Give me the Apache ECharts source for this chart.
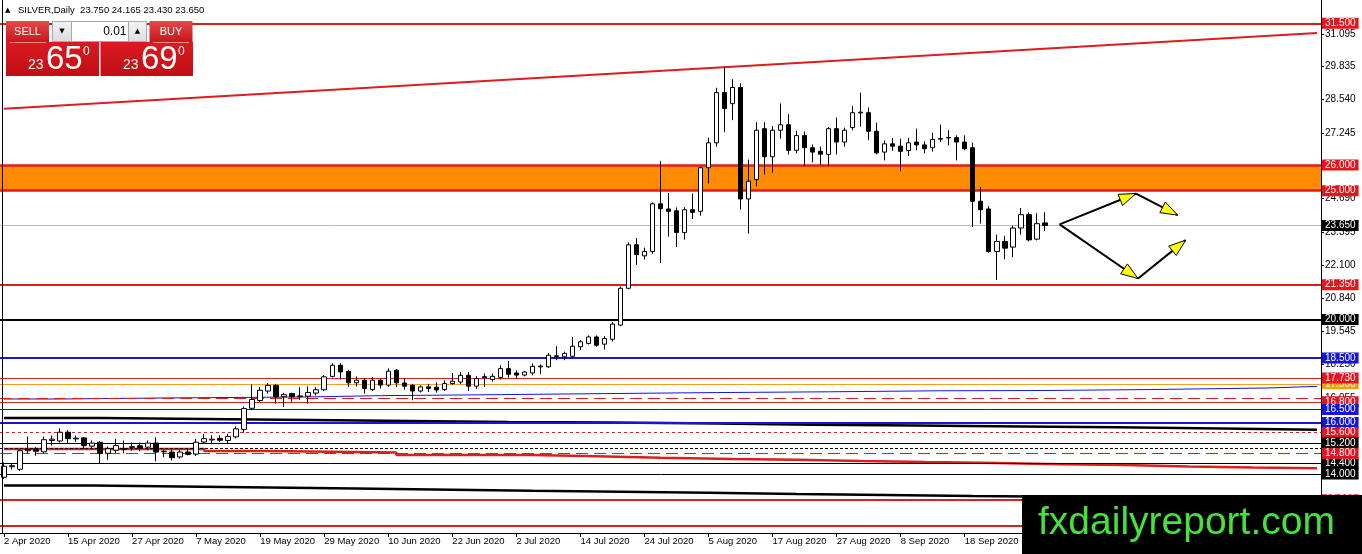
<!DOCTYPE html>
<html><head><meta charset="utf-8">
<script src="https://cdn.jsdelivr.net/npm/echarts@6/dist/echarts.min.js"></script>
<style>html,body{margin:0;padding:0;background:#fff}#c{width:1362px;height:554px}</style>
</head><body><div id="c"></div>
<script>
// ---------- data ----------
const dates = [
'2 Apr 2020','3 Apr 2020','6 Apr 2020','7 Apr 2020','8 Apr 2020','9 Apr 2020','13 Apr 2020','14 Apr 2020','15 Apr 2020','16 Apr 2020',
'17 Apr 2020','20 Apr 2020','21 Apr 2020','22 Apr 2020','23 Apr 2020','24 Apr 2020','27 Apr 2020','28 Apr 2020','29 Apr 2020','30 Apr 2020',
'1 May 2020','4 May 2020','5 May 2020','6 May 2020','7 May 2020','8 May 2020','11 May 2020','12 May 2020','13 May 2020','14 May 2020',
'15 May 2020','18 May 2020','19 May 2020','20 May 2020','21 May 2020','22 May 2020','25 May 2020','26 May 2020','27 May 2020','28 May 2020',
'29 May 2020','1 Jun 2020','2 Jun 2020','3 Jun 2020','4 Jun 2020','5 Jun 2020','8 Jun 2020','9 Jun 2020','10 Jun 2020','11 Jun 2020',
'12 Jun 2020','15 Jun 2020','16 Jun 2020','17 Jun 2020','18 Jun 2020','19 Jun 2020','22 Jun 2020','23 Jun 2020','24 Jun 2020','25 Jun 2020',
'26 Jun 2020','29 Jun 2020','30 Jun 2020','1 Jul 2020','2 Jul 2020','3 Jul 2020','6 Jul 2020','7 Jul 2020','8 Jul 2020','9 Jul 2020',
'10 Jul 2020','13 Jul 2020','14 Jul 2020','15 Jul 2020','16 Jul 2020','17 Jul 2020','20 Jul 2020','21 Jul 2020','22 Jul 2020','23 Jul 2020',
'24 Jul 2020','27 Jul 2020','28 Jul 2020','29 Jul 2020','30 Jul 2020','31 Jul 2020','3 Aug 2020','4 Aug 2020','5 Aug 2020','6 Aug 2020',
'7 Aug 2020','10 Aug 2020','11 Aug 2020','12 Aug 2020','13 Aug 2020','14 Aug 2020','17 Aug 2020','18 Aug 2020','19 Aug 2020','20 Aug 2020',
'21 Aug 2020','24 Aug 2020','25 Aug 2020','26 Aug 2020','27 Aug 2020','28 Aug 2020','31 Aug 2020','1 Sep 2020','2 Sep 2020','3 Sep 2020',
'4 Sep 2020','7 Sep 2020','8 Sep 2020','9 Sep 2020','10 Sep 2020','11 Sep 2020','14 Sep 2020','15 Sep 2020','16 Sep 2020','17 Sep 2020',
'18 Sep 2020','21 Sep 2020','22 Sep 2020','23 Sep 2020','24 Sep 2020','25 Sep 2020','28 Sep 2020','29 Sep 2020','30 Sep 2020','1 Oct 2020',
'2 Oct 2020'];

const open = [
13.87,14.28,14.18,14.90,14.97,14.86,15.30,15.28,15.62,15.36, 15.40,15.08,15.23,14.80,14.92,14.95,15.03,15.09,15.04,15.20,
14.86,14.85,14.66,14.85,14.77,15.24,15.32,15.38,15.30,15.44, 15.73,16.55,16.85,17.22,17.44,17.00,17.12,17.00,17.02,17.14,
17.27,17.79,18.22,17.98,17.54,17.64,17.28,17.64,17.45,18.03, 17.53,17.44,17.22,17.38,17.37,17.28,17.51,17.57,17.83,17.41,
17.74,17.67,17.75,18.09,17.92,17.84,17.92,18.16,18.16,18.56, 18.55,18.57,18.94,19.07,19.32,19.04,19.23,19.78,21.21,22.90,
22.47,22.64,24.49,24.29,24.22,23.38,24.26,24.20,25.89,26.86, 28.81,28.38,29.01,24.68,25.43,27.41,26.32,27.35,27.56,26.57,
27.14,26.67,26.53,26.41,27.41,26.89,27.45,28.02,28.03,27.31, 26.50,26.82,26.73,26.56,26.89,26.78,26.67,27.00,27.05,27.06,
26.89,26.67,24.59,24.29,22.64,23.03,22.81,23.55,24.07,23.12, 23.750];
const close = [
14.30,14.32,14.90,14.95,14.88,15.33,15.35,15.62,15.37,15.39, 15.10,15.20,14.80,14.98,15.10,14.97,15.06,15.02,15.20,14.85,
14.88,14.63,14.85,14.76,15.23,15.37,15.35,15.31,15.45,15.75, 16.54,16.89,17.25,17.44,17.00,17.08,17.00,17.03,17.16,17.27,
17.77,18.22,17.96,17.54,17.64,17.32,17.64,17.45,17.99,17.54, 17.41,17.22,17.38,17.32,17.26,17.51,17.60,17.83,17.41,17.70,
17.78,17.79,18.09,17.87,17.84,17.96,18.18,18.19,18.61,18.59, 18.68,18.96,19.13,19.32,19.00,19.26,19.82,21.21,22.90,22.52,
22.64,24.49,24.30,24.20,23.38,24.26,24.16,25.89,26.86,28.81, 28.19,29.01,24.68,25.37,27.35,26.32,27.35,27.56,26.57,27.14,
26.67,26.50,26.42,27.41,26.89,27.35,28.03,28.05,27.31,26.47, 26.82,26.73,26.53,26.86,26.78,26.63,26.99,27.03,27.07,26.89,
26.63,24.59,24.26,22.64,23.03,22.77,23.55,24.07,23.09,23.72, 23.650];
const low = [
13.80,14.17,14.12,14.78,14.71,14.80,15.10,15.22,15.19,15.24, 14.97,14.98,14.42,14.55,14.81,14.80,14.90,14.88,14.92,14.49,
14.65,14.52,14.60,14.72,14.70,15.18,15.15,15.24,15.18,15.38, 15.60,16.48,16.80,17.12,16.73,16.60,16.80,16.88,16.73,17.05,
17.22,17.75,17.67,17.38,17.40,17.12,17.22,17.32,17.38,17.38, 17.27,16.86,17.16,17.18,17.16,17.22,17.46,17.49,17.22,17.30,
17.38,17.59,17.66,17.74,17.70,17.79,17.83,17.88,18.12,18.42, 18.42,18.52,18.81,19.03,18.94,18.83,19.15,19.74,21.17,22.12,
22.33,22.55,22.19,23.22,22.81,23.10,23.90,24.03,25.28,26.71, 27.27,27.74,24.26,23.33,25.17,25.63,25.69,27.02,26.41,26.45,
25.96,26.10,26.00,25.96,26.41,26.71,27.35,27.49,26.96,26.41, 26.18,26.55,25.76,26.35,26.57,26.45,26.52,26.89,26.76,26.18,
26.57,23.59,23.72,22.59,21.53,22.34,22.42,23.29,23.03,23.07, 23.430];
const high = [
14.45,14.40,14.95,15.45,15.04,15.45,15.49,15.77,15.70,15.49, 15.43,15.30,15.28,15.07,15.37,15.30,15.22,15.22,15.30,15.42,
14.95,14.97,14.95,14.98,15.36,15.56,15.50,15.50,15.56,15.84, 16.62,17.48,17.37,17.53,17.50,17.15,17.15,17.37,17.40,17.37,
17.84,18.30,18.30,18.05,17.79,17.70,17.76,17.68,18.10,18.07, 17.70,17.50,17.44,17.50,17.56,17.64,17.92,17.96,17.96,17.80,
17.90,17.90,18.22,18.39,18.03,18.00,18.29,18.25,18.70,18.96, 18.75,19.32,19.20,19.38,19.38,19.35,19.90,21.28,22.99,23.16,
22.79,24.55,26.15,24.91,24.35,24.36,24.89,25.93,27.06,29.00, 29.82,29.33,29.17,26.21,27.66,27.66,27.51,28.39,27.97,27.33,
27.30,26.80,26.71,27.47,27.84,27.45,28.29,28.81,28.23,27.64, 26.95,27.05,27.02,27.05,27.41,26.92,27.25,27.57,27.35,27.15,
27.15,26.86,25.15,24.40,23.29,23.25,23.64,24.33,24.16,24.13, 24.165];

const askPrice = 23.690;
const yTicks = [31.095,29.835,28.540,27.245,25.950,24.690,23.395,22.100,20.840,19.545,18.250,16.955,15.695,14.400];

// horizontal levels, grouped by drawing style
const redThickLevels = [31.5, 21.35, 13.0, 12.0];
const zoneLevels = [25.0, 26.0];
const redThinLevels = [16.8, 17.73];
const redDottedLevels = [15.6];
const redDashedLevels = [14.8];
const redDashedPlain = [16.95];
const blackThickLevels = [20.0];
const blackThinLevels = [15.2, 14.4, 14.0];
const blackDashedPlain = [14.98];
const blueThickLevels = [18.5, 16.0];
const blueThinLevels = [16.5];
const orangeLevels = [17.5];

// stepped indicator lines: bar index of each step and value
const blackUpperIdx = [0,12,25,38,51,63,76,89,101,114,127,139,152,164];
const blackUpperVal = [16.17,16.13,16.09,16.06,16.02,16.00,15.96,15.91,15.88,15.84,15.81,15.76,15.72,15.72];
const blueStepIdx = [0,7,20,38,47,62,75,89,103,117,130,144,158,164];
const blueStepVal = [16.91,16.95,16.99,17.04,17.08,17.12,17.16,17.19,17.23,17.24,17.28,17.34,17.40,17.40];
const redStepIdx = [0,25,33,49,66,74,82,91,99,107,115,124,132,140,148,156,164];
const redStepVal = [14.97,14.89,14.83,14.74,14.69,14.63,14.58,14.55,14.50,14.46,14.42,14.38,14.35,14.29,14.25,14.22,14.22];
const blackLowerIdx = [0,11,22,33,44,56,66,77,88,99,110,121,132,143,154,164];
const blackLowerVal = [13.55,13.51,13.47,13.43,13.39,13.35,13.31,13.27,13.22,13.18,13.14,13.11,13.07,13.03,12.99,12.99];

// trend line (bar index, price)
const trendStart = [0, 28.18];
const trendEnd = [164, 31.13];

// scenario arrows: [x1, y1, x2, y2] in (bar index, price)
const arrowSegments = [
  [131.85, 23.69, 141.4, 24.89],
  [141.4, 24.89, 146.6, 24.05],
  [131.85, 23.69, 141.65, 21.59],
  [141.65, 21.59, 147.6, 23.08]
];

// ---------- build ----------
const TOTAL = 165;
const cats = dates.concat(new Array(TOTAL - dates.length).fill(''));
const candleData = dates.map((d, i) => [open[i], close[i], low[i], high[i]]);
const last = dates.length - 1;
const bid = close[last];

const RED = '#dc1e1e', RED_LBL = '#e6141c', BLUE = '#1414dc', BLACK = '#000', ORANGE = '#f0a020';
const FONT = '"Liberation Sans", Arial, sans-serif';

function levelSeries(vals, color, width, type, labelBg, showLabel) {
  return {
    type: 'line', data: [], silent: true, z: 2,
    markLine: {
      silent: true, symbol: ['none', 'none'], animation: false,
      lineStyle: { color: color, width: width, type: type },
      label: showLabel ? {
        show: true, position: 'end', distance: 1,
        formatter: p => Number(p.value).toFixed(3),
        color: '#fff', backgroundColor: labelBg, padding: [1, 3, 0, 3],
        fontSize: 10, lineHeight: 10, fontFamily: FONT
      } : { show: false },
      data: vals.map(v => ({ yAxis: v }))
    }
  };
}
function stepSeries(idx, vals, color, width) {
  return {
    type: 'line', step: 'end', symbol: 'none', silent: true, z: 2,
    lineStyle: { color: color, width: width },
    data: idx.map((x, i) => [x, vals[i]])
  };
}

const series = [
  // orange zone
  { type: 'line', data: [], silent: true, z: 1,
    markArea: { silent: true, itemStyle: { color: '#ff8c00', opacity: 1 },
      data: [[{ yAxis: zoneLevels[0] }, { yAxis: zoneLevels[1] }]] } },
  stepSeries(blackLowerIdx, blackLowerVal, BLACK, 2.5),
  stepSeries(blueStepIdx, blueStepVal, BLUE, 1),
  levelSeries(redDashedPlain, RED, 1, [12, 6], null, false),
  levelSeries(blackDashedPlain, BLACK, 1, [3, 2], null, false),
  stepSeries(redStepIdx, redStepVal, RED, 2.5),
  stepSeries(blackUpperIdx, blackUpperVal, BLACK, 2.5),
  levelSeries(orangeLevels, ORANGE, 1, 'solid', '#f5a000', true),
  levelSeries(redThinLevels, RED, 1, 'solid', RED_LBL, true),
  levelSeries(blueThinLevels, BLUE, 1, 'solid', BLUE, true),
  levelSeries(blueThickLevels, BLUE, 2, 'solid', BLUE, true),
  levelSeries(redDottedLevels, RED, 1, [3, 3], RED_LBL, true),
  levelSeries(blackThinLevels, BLACK, 1, 'solid', BLACK, true),
  levelSeries(redDashedLevels, RED, 1, [12, 6], RED_LBL, true),
  levelSeries(blackThickLevels, BLACK, 2, 'solid', BLACK, true),
  levelSeries(redThickLevels, RED, 2, 'solid', RED_LBL, true),
  levelSeries(zoneLevels, RED, 2.5, 'solid', RED_LBL, true),
  levelSeries([bid], '#b8b8b8', 1, 'solid', BLACK, true),
  // trend line
  { type: 'line', data: [], silent: true, z: 2,
    markLine: { silent: true, symbol: ['none', 'none'], animation: false,
      lineStyle: { color: RED, width: 2, type: 'solid' }, label: { show: false },
      data: [[{ coord: trendStart }, { coord: trendEnd }]] } },
  // candles
  { type: 'candlestick', z: 5, barWidth: 5, data: candleData,
    itemStyle: { color: '#fff', color0: '#000', borderColor: '#000', borderColor0: '#000', borderWidth: 1 } },
  // arrows
  { type: 'custom', z: 6, silent: true, clip: false,
    data: arrowSegments.map(s => [Math.floor(s[0]), s[1]]),
    encode: { x: 0, y: 1 },
    renderItem: function (params, api) {
      const s = arrowSegments[params.dataIndex];
      const bw = api.size([1, 0])[0];
      const pt = (x, y) => { const xi = Math.floor(x); const c = api.coord([xi, y]); return [c[0] + (x - xi) * bw, c[1]]; };
      const a = pt(s[0], s[1]), b = pt(s[2], s[3]);
      const dx = b[0] - a[0], dy = b[1] - a[1], L = Math.hypot(dx, dy), ux = dx / L, uy = dy / L;
      const hl = 17, hw = 6;
      const base = [b[0] - ux * hl, b[1] - uy * hl];
      const p1 = [base[0] - uy * hw, base[1] + ux * hw], p2 = [base[0] + uy * hw, base[1] - ux * hw];
      return { type: 'group', children: [
        { type: 'line', shape: { x1: a[0], y1: a[1], x2: b[0], y2: b[1] }, style: { stroke: '#000', lineWidth: 2 } },
        { type: 'polygon', shape: { points: [b, p1, p2] }, style: { fill: '#ffff00', stroke: '#000', lineWidth: 1 } }
      ] };
    } }
];

const showIdx = (i, v) => v !== '' && i % 8 === 0;
const f3 = v => v.toFixed(3);
const bidStr = f3(bid), askStr = f3(askPrice);
const header = 'SILVER,Daily  ' + [open[last], high[last], low[last], close[last]].map(f3).join(' ');

const gradTop = new echarts.graphic.LinearGradient(0, 0, 0, 1, [{ offset: 0, color: '#e8484b' }, { offset: 1, color: '#c8161d' }]);
const gradBig = new echarts.graphic.LinearGradient(0, 0, 0, 1, [{ offset: 0, color: '#dc1a21' }, { offset: 1, color: '#c00d15' }]);
const gray = new echarts.graphic.LinearGradient(0, 0, 0, 1, [{ offset: 0, color: '#f4f4f4' }, { offset: 1, color: '#dcdcdc' }]);

function priceTexts(str, x0) {
  const parts = [str.slice(0, 2), str.slice(3, 5), str.slice(5)];
  return [
    { type: 'text', z: 101, x: x0, y: 65, style: { text: parts[0], fill: '#fff', font: '14px ' + FONT, verticalAlign: 'middle' } },
    { type: 'text', z: 101, x: x0 + 18, y: 60, style: { text: parts[1], fill: '#fff', font: '33px ' + FONT, verticalAlign: 'middle' } },
    { type: 'text', z: 101, x: x0 + 55, y: 52, style: { text: parts[2], fill: '#fff', font: '12px ' + FONT, verticalAlign: 'middle' } }
  ];
}

const graphic = [
  { type: 'line', z: 100, shape: { x1: 2.5, y1: 0, x2: 2.5, y2: 533 }, style: { stroke: '#000', lineWidth: 1 } },
  { type: 'text', z: 101, x: 5, y: 10, style: { text: '▲', fill: '#000', font: '7px "DejaVu Sans"', verticalAlign: 'middle' } },
  { type: 'text', z: 101, x: 18, y: 10, style: { text: header, fill: '#000', font: '9.5px ' + FONT, verticalAlign: 'middle' } },
  { type: 'rect', z: 100, shape: { x: 6, y: 21, width: 43, height: 21 }, style: { fill: gradTop } },
  { type: 'text', z: 101, x: 27.5, y: 31.5, style: { text: 'SELL', fill: '#fff', font: '11px ' + FONT, align: 'center', verticalAlign: 'middle' } },
  { type: 'rect', z: 100, shape: { x: 52.5, y: 21.5, width: 19, height: 20 }, style: { fill: gray, stroke: '#a8a8a8', lineWidth: 1 } },
  { type: 'text', z: 101, x: 62, y: 31, style: { text: '▼', fill: '#000', font: '7px "DejaVu Sans"', align: 'center', verticalAlign: 'middle' } },
  { type: 'rect', z: 100, shape: { x: 71.5, y: 21.5, width: 57, height: 20 }, style: { fill: '#fff', stroke: '#a8a8a8', lineWidth: 1 } },
  { type: 'text', z: 101, x: 126.5, y: 31.5, style: { text: '0.01', fill: '#000', font: '12px ' + FONT, align: 'right', verticalAlign: 'middle' } },
  { type: 'rect', z: 100, shape: { x: 128.5, y: 21.5, width: 18, height: 20 }, style: { fill: gray, stroke: '#a8a8a8', lineWidth: 1 } },
  { type: 'text', z: 101, x: 137.5, y: 31, style: { text: '▲', fill: '#000', font: '7px "DejaVu Sans"', align: 'center', verticalAlign: 'middle' } },
  { type: 'rect', z: 100, shape: { x: 149.5, y: 21, width: 43, height: 21 }, style: { fill: gradTop } },
  { type: 'text', z: 101, x: 171, y: 31.5, style: { text: 'BUY', fill: '#fff', font: '11px ' + FONT, align: 'center', verticalAlign: 'middle' } },
  { type: 'rect', z: 100, shape: { x: 6, y: 42, width: 93, height: 34 }, style: { fill: gradBig } },
  { type: 'rect', z: 100, shape: { x: 100.5, y: 42, width: 92.5, height: 34 }, style: { fill: gradBig } },
  { type: 'line', z: 101, shape: { x1: 10, y1: 42.5, x2: 46, y2: 42.5 }, style: { stroke: '#f08a8a', lineWidth: 1 } },
  { type: 'line', z: 101, shape: { x1: 153, y1: 42.5, x2: 189, y2: 42.5 }, style: { stroke: '#f08a8a', lineWidth: 1 } },
  ...priceTexts(bidStr, 28),
  ...priceTexts(askStr, 123),
  { type: 'rect', z: 100, shape: { x: 1022, y: 495, width: 340, height: 59 }, style: { fill: '#000' } },
  { type: 'text', z: 101, x: 1038, y: 523, style: { text: 'fxdailyreport.com', fill: '#46e23c', font: '39px ' + FONT, verticalAlign: 'middle' } }
];

const chart = echarts.init(document.getElementById('c'), null, { renderer: 'canvas' });
chart.setOption({
  animation: false,
  backgroundColor: '#fff',
  grid: { left: 0, right: 41, top: 0, bottom: 21, show: false },
  xAxis: {
    type: 'category', data: cats, boundaryGap: true,
    axisLine: { show: true, lineStyle: { color: '#000', width: 1 } },
    axisTick: { show: true, alignWithLabel: true, interval: showIdx, length: 4, lineStyle: { color: '#000' } },
    axisLabel: { interval: showIdx, align: 'left', color: '#000', fontSize: 9.5, fontFamily: FONT, margin: 3, showMaxLabel: false },
    splitLine: { show: false }
  },
  yAxis: {
    type: 'value', position: 'right', min: 11.706, max: 32.407, scale: true,
    axisLine: { show: true, lineStyle: { color: '#000', width: 1 } },
    axisTick: { show: true, customValues: yTicks, length: 3, lineStyle: { color: '#000' } },
    axisLabel: { customValues: yTicks, formatter: v => v.toFixed(3), color: '#000', fontSize: 10, fontFamily: FONT, margin: 4 },
    splitLine: { show: false }
  },
  graphic: graphic,
  series: series
});
</script>
</body></html>
